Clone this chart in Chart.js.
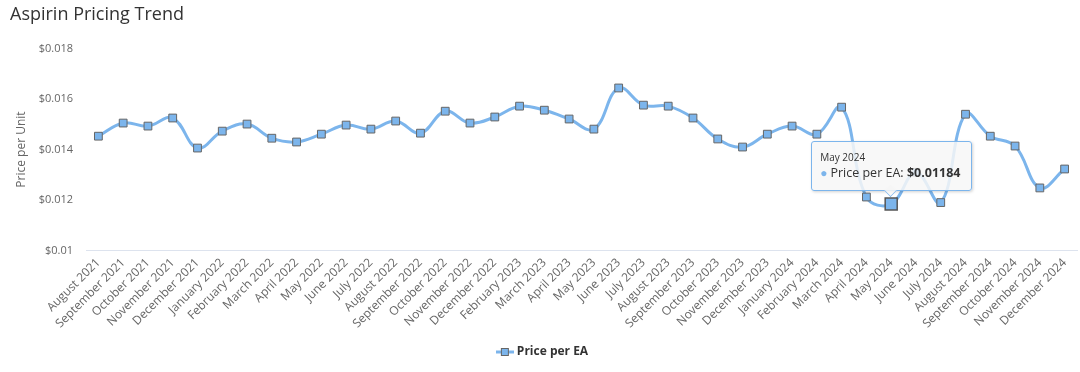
<!DOCTYPE html>
<html>
<head>
<meta charset="utf-8">
<script src="https://cdn.jsdelivr.net/npm/chart.js@4.4.1/dist/chart.umd.min.js"></script>
<style>
  html, body { margin: 0; padding: 0; background: #fff; }
  #wrap { position: relative; width: 1080px; height: 372px; }
  #tip {
    position: absolute; display: none; pointer-events: none;
    background: rgba(247,247,247,0.85); border: 1px solid #7cb5ec; border-radius: 3px;
    box-shadow: 1px 1px 3px rgba(0,0,0,0.18);
    font-family: "Open Sans", sans-serif; color: #333; padding: 8px 10px 8px 8px; white-space: nowrap;
  }
  #tip .t { font-size: 10px; line-height: 14px; }
  #tip .b { font-size: 12.5px; line-height: 18px; }
  #tip .dot { color: #7cb5ec; font-size: 12px; margin-right: 3px; }
  #tip:after {
    content: ''; position: absolute; left: 50%; bottom: -7px; margin-left: -7px;
    width: 12px; height: 12px; background: rgba(247,247,247,0.85);
    border-right: 1px solid #7cb5ec; border-bottom: 1px solid #7cb5ec;
    transform: rotate(45deg) scale(0.7, 0.7);
  }
</style>
</head>
<body>
<div id="wrap">
  <canvas id="chart" width="1080" height="372"></canvas>
  <div id="tip"></div>
</div>
<script>
// data
const months = [
  'August 2021', 'September 2021', 'October 2021', 'November 2021', 'December 2021',
  'January 2022', 'February 2022', 'March 2022', 'April 2022', 'May 2022', 'June 2022',
  'July 2022', 'August 2022', 'September 2022', 'October 2022', 'November 2022', 'December 2022',
  'February 2023', 'March 2023', 'April 2023', 'May 2023', 'June 2023', 'July 2023',
  'August 2023', 'September 2023', 'October 2023', 'November 2023', 'December 2023',
  'January 2024', 'February 2024', 'March 2024', 'April 2024', 'May 2024', 'June 2024',
  'July 2024', 'August 2024', 'September 2024', 'October 2024', 'November 2024', 'December 2024'
];
const pricePerEA = [
  0.01453, 0.01505, 0.01493, 0.01525, 0.01406,
  0.01473, 0.01501, 0.01445, 0.01430, 0.01461, 0.01497,
  0.01481, 0.01513, 0.01465, 0.01552, 0.01505, 0.01529,
  0.01572, 0.01556, 0.01521, 0.01481, 0.01644, 0.01576,
  0.01572, 0.01525, 0.01442, 0.01410, 0.01461,
  0.01493, 0.01461, 0.01568, 0.01212, 0.01184, 0.01310,
  0.01190, 0.01540, 0.01453, 0.01414, 0.01248, 0.01323
];
const yTicks = [0.01, 0.012, 0.014, 0.016, 0.018];
const seriesName = 'Price per EA';
const activeIndex = 32; // May 2024 tooltip

const FONT = '"Open Sans", sans-serif';
const LINE = '#7cb5ec';

function formatPrice(v) {
  return '$' + parseFloat(v.toFixed(5));
}

// legend symbol: short line with square marker
const sym = document.createElement('canvas');
sym.width = 18; sym.height = 10;
(function () {
  const c = sym.getContext('2d');
  c.strokeStyle = LINE; c.lineWidth = 3;
  c.beginPath(); c.moveTo(0, 5); c.lineTo(18, 5); c.stroke();
  c.fillStyle = LINE; c.strokeStyle = '#666'; c.lineWidth = 1;
  c.fillRect(5.5, 1.5, 7, 7); c.strokeRect(5.5, 1.5, 7, 7);
})();

function externalTip(ctx) {
  const el = document.getElementById('tip');
  const tt = ctx.tooltip;
  if (tt.opacity === 0 || !tt.dataPoints || !tt.dataPoints.length) { el.style.display = 'none'; return; }
  const dp = tt.dataPoints[0];
  el.innerHTML = '<div class="t">' + dp.label + '</div>' +
    '<div class="b"><span class="dot">&#9679;</span>' + seriesName + ': <b>' + formatPrice(dp.raw) + '</b></div>';
  el.style.display = 'block';
  const w = el.offsetWidth, h = el.offsetHeight;
  el.style.left = (tt.caretX - w / 2) + 'px';
  el.style.top = (tt.caretY - h - 13) + 'px';
}

// drop the extra room chart.js keeps for the rotated end labels
function noSidePadding(axis) {
  axis.paddingLeft = 0;
  axis.paddingRight = 0;
}

const chart = new Chart(document.getElementById('chart'), {
  type: 'line',
  data: {
    labels: months,
    datasets: [{
      label: seriesName,
      data: pricePerEA,
      borderColor: LINE,
      borderWidth: 3,
      tension: 0.4,
      fill: false,
      pointStyle: 'rect',
      pointRadius: 5.5,
      pointHoverRadius: 8.5,
      pointBackgroundColor: LINE,
      pointBorderColor: '#666',
      pointBorderWidth: 1,
      pointHoverBackgroundColor: LINE,
      pointHoverBorderColor: '#555',
      pointHoverBorderWidth: 1.5
    }]
  },
  options: {
    responsive: false,
    animation: false,
    layout: { autoPadding: false, padding: { left: 10, right: 3, top: 3, bottom: 4 } },
    interaction: { mode: 'index', intersect: false },
    plugins: {
      title: {
        display: true, text: 'Aspirin Pricing Trend', align: 'start',
        color: '#333', font: { family: FONT, size: 18, weight: 'normal' },
        padding: { top: 1, bottom: 23 }
      },
      legend: {
        position: 'bottom',
        labels: {
          color: '#333', font: { family: FONT, size: 12, weight: 'bold' },
          usePointStyle: true, padding: 10,
          generateLabels: chart => [{
            text: seriesName, pointStyle: sym, datasetIndex: 0,
            fontColor: '#333', lineWidth: 0, hidden: false
          }]
        }
      },
      tooltip: { enabled: false, external: externalTip }
    },
    scales: {
      x: {
        offset: true,
        grid: { display: false, drawTicks: false },
        border: { display: true, color: '#dde3ee', width: 1 },
        afterFit: noSidePadding,
        ticks: {
          color: '#666', font: { family: FONT, size: 12 },
          maxRotation: 45, minRotation: 45, autoSkip: false, padding: 5
        }
      },
      y: {
        min: 0.01, max: 0.018,
        afterBuildTicks: axis => { axis.ticks = yTicks.map(v => ({ value: v })); },
        afterFit: axis => { axis.width = 76; },
        grid: { display: false, drawTicks: false },
        border: { display: false },
        title: {
          display: true, text: 'Price per Unit', color: '#666',
          font: { family: FONT, size: 12 }, padding: { top: 4, bottom: 8 }
        },
        ticks: {
          color: '#666', font: { family: FONT, size: 11 }, padding: 13,
          callback: v => formatPrice(v)
        }
      }
    }
  }
});

const active = [{ datasetIndex: 0, index: activeIndex }];
const meta = chart.getDatasetMeta(0).data[activeIndex];
chart.setActiveElements(active);
chart.tooltip.setActiveElements(active, { x: meta.x, y: meta.y });
chart.update();
</script>
</body>
</html>
